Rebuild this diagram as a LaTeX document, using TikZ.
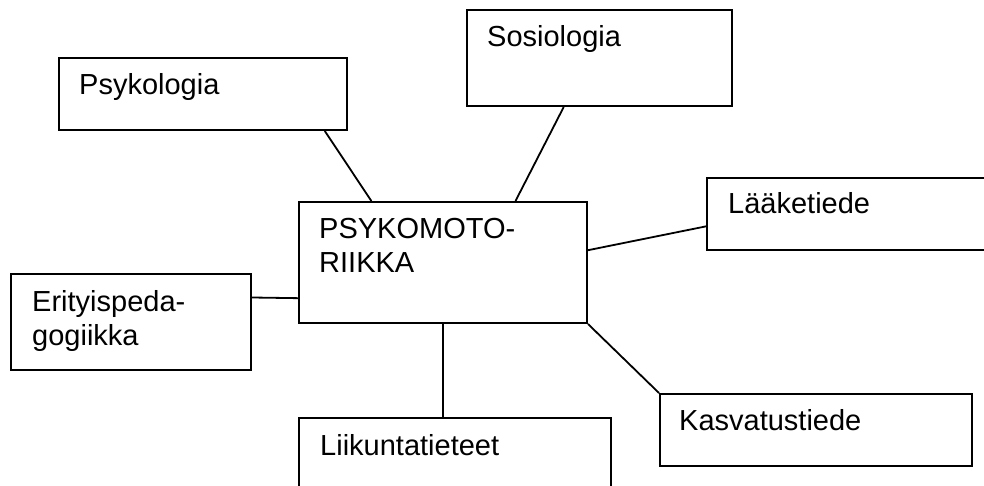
\documentclass[tikz,border=0pt]{standalone}
\usepackage{fontspec}
\setmainfont{Liberation Sans}
\usetikzlibrary{calc}

\begin{document}
\begin{tikzpicture}[x=1pt, y=-1pt,
    box/.style={draw, line width=2pt, inner sep=0pt, anchor=north west},
    lbl/.style={anchor=base west, inner sep=0pt, align=left, font=\fontsize{29}{34}\selectfont},
    link/.style={line width=1.8pt}]
    \useasboundingbox (0,0) rectangle (984,486);

    % boxes
    \node[box, minimum width=288pt, minimum height=72pt]  (psy) at (58,57)  {};
    \node[box, minimum width=265pt, minimum height=96pt]  (sos) at (466,9)  {};
    \node[box, minimum width=290pt, minimum height=72pt]  (laa) at (706,177) {};
    \node[box, minimum width=288pt, minimum height=121pt] (psm) at (298,201) {};
    \node[box, minimum width=240pt, minimum height=96pt]  (eri) at (10,273) {};
    \node[box, minimum width=312pt, minimum height=90pt]  (lii) at (298,417) {};
    \node[box, minimum width=312pt, minimum height=72pt]  (kas) at (659,393) {};

    % texts (base = last line)
    \node[lbl] (psy-t) at (79,95)   {Psykologia};
    \node[lbl] (sos-t) at (487,47)  {Sosiologia};
    \node[lbl] (laa-t) at (728,214) {Lääketiede};
    \node[lbl] (psm-t) at (319,272) {PSYKOMOTO-\\RIIKKA};
    \node[lbl] (eri-t) at (32,345)  {Erityispeda-\\gogiikka};
    \node[lbl] (lii-t) at (320,455) {Liikuntatieteet};
    \node[lbl] (kas-t) at (679,430) {Kasvatustiede};

    % connectors
    \draw[link] ($(psy.south west)!0.92!(psy.south east)$) -- ($(psm.north west)!0.253!(psm.north east)$);
    \draw[link] ($(sos.south west)!0.366!(sos.south east)$) -- ($(psm.north west)!0.75!(psm.north east)$);
    \draw[link] ($(psm.north east)!0.4!(psm.south east)$) -- ($(laa.north west)!0.667!(laa.south west)$);
    \draw[link] ($(eri.north east)!0.25!(eri.south east)$) -- ($(psm.north west)!0.79!(psm.south west)$);
    \draw[link] (psm.south) -- (psm.south |- lii.north);
    \draw[link] (psm.south east) -- (kas.north west);
\end{tikzpicture}
\end{document}
